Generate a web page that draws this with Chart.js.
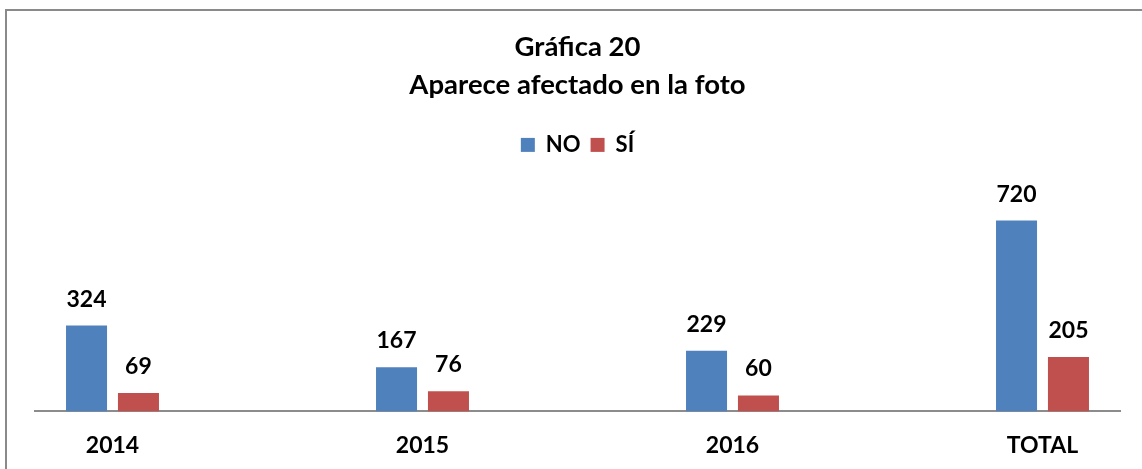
<!DOCTYPE html>
<html>
<head>
<meta charset="utf-8">
<script src="https://cdn.jsdelivr.net/npm/chart.js@4/dist/chart.umd.min.js"></script>
<style>
  html, body { margin: 0; padding: 0; background: #fff; }
  #wrap { position: relative; width: 1142px; height: 469px; overflow: hidden; }
  #frame { position: absolute; left: 5px; top: 9px; width: 1200px; height: 520px;
           border-left: 2px solid #8a8a8a; border-top: 2px solid #8a8a8a; box-sizing: border-box; }
  canvas { position: absolute; left: 0; top: 0; }
</style>
</head>
<body>
<div id="wrap">
  <div id="frame"></div>
  <canvas id="c" width="1142" height="487"></canvas>
</div>
<script>
const categories = ['2014', '2015', '2016', 'TOTAL'];
const seriesNames = ['NO', 'SÍ'];
const noValues = [324, 167, 229, 720];
const siValues = [69, 76, 60, 205];
const titleLines = ['Gráfica 20', 'Aparece afectado en la foto'];

const FONT = 'Lato';

const valueLabels = {
  id: 'valueLabels',
  afterDatasetsDraw(chart) {
    const ctx = chart.ctx;
    ctx.save();
    ctx.font = 'bold 23px ' + FONT;
    ctx.fillStyle = '#000';
    ctx.textAlign = 'center';
    ctx.textBaseline = 'alphabetic';
    chart.data.datasets.forEach((ds, i) => {
      chart.getDatasetMeta(i).data.forEach((bar, j) => {
        ctx.fillText(String(ds.data[j].y), bar.x, bar.y - 19);
      });
    });
    ctx.restore();
  }
};

new Chart(document.getElementById('c'), {
  type: 'bar',
  data: {
    datasets: [
      { label: seriesNames[0], data: noValues.map((v, i) => ({ x: i, y: v })), backgroundColor: '#4F81BD' },
      { label: seriesNames[1], data: siValues.map((v, i) => ({ x: i, y: v })), backgroundColor: '#C0504D' }
    ]
  },
  options: {
    responsive: false,
    animation: false,
    devicePixelRatio: 1,
    categoryPercentage: 0.335,
    barPercentage: 0.79,
    layout: { padding: { left: 35, right: 22, top: 0, bottom: 8 } },
    plugins: {
      title: {
        display: true,
        text: titleLines,
        color: '#000',
        font: { family: FONT, size: 27.5, weight: 'bold', lineHeight: 1.38 },
        padding: { top: 28, bottom: 20 }
      },
      legend: {
        display: true,
        labels: {
          color: '#000',
          font: { family: FONT, size: 22, weight: 'bold' },
          boxWidth: 14, boxHeight: 14, padding: 10
        }
      },
      tooltip: { enabled: false }
    },
    scales: {
      x: {
        type: 'linear',
        offset: false,
        min: -0.25,
        max: 3.25,
        grid: { display: false, drawTicks: false, offset: false },
        border: { display: true, color: '#8c8c8c', width: 2 },
        afterBuildTicks: (scale) => { scale.ticks = categories.map((_, i) => ({ value: i })); },
        ticks: {
          color: '#000',
          font: { family: FONT, size: 23, weight: 'bold' },
          padding: 20,
          maxRotation: 0,
          autoSkip: false,
          callback: (v) => categories[v] !== undefined ? categories[v] : ''
        }
      },
      y: {
        display: false,
        min: 0,
        max: 926
      }
    }
  },
  plugins: [valueLabels]
});
</script>
</body>
</html>
